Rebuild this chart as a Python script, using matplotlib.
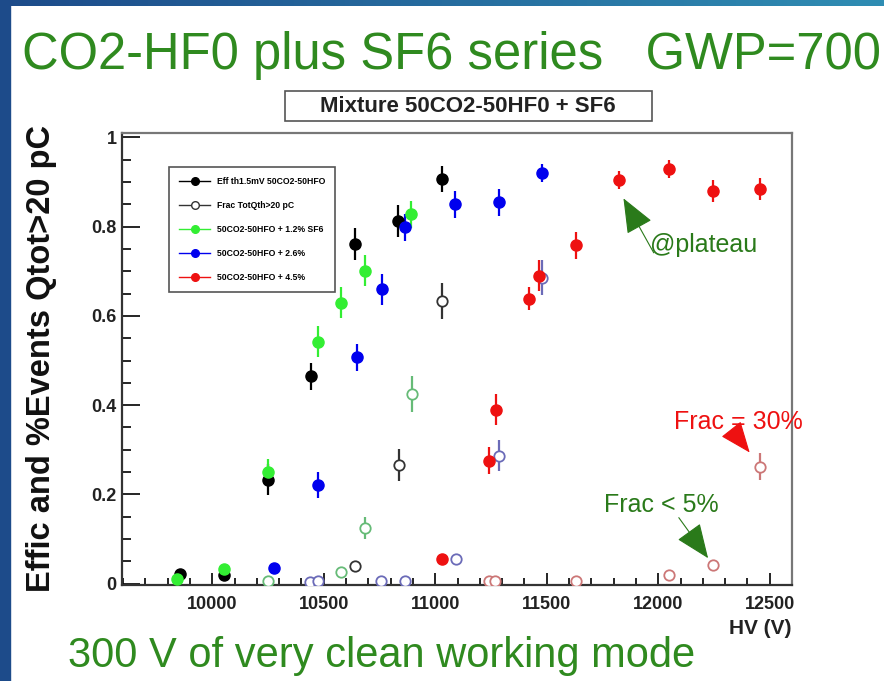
import matplotlib
matplotlib.use('Agg')
import numpy as np
from matplotlib import pyplot as plt
from matplotlib.colors import LinearSegmentedColormap
from matplotlib.lines import Line2D
from matplotlib.patches import Rectangle

W, H = 884, 681
SANS = ['Liberation Sans', 'DejaVu Sans']
TXT_GREEN = '#2f8a1f'

# Eff th1.5mV 50CO2-50HFO (filled black) and Frac TotQth>20 pC (open black)
hv_black = [9855, 10052, 10250, 10442, 10639, 10833, 11030]
eff_black = [0.021, 0.020, 0.233, 0.465, 0.761, 0.813, 0.907]
err_black = [0.010, 0.010, 0.035, 0.030, 0.035, 0.035, 0.030]
hv_black_frac = [10639, 10838, 11032]
frac_black = [0.040, 0.266, 0.634]
err_black_frac = [0.010, 0.035, 0.040]

# 50CO2-50HFO + 1.2% SF6
hv_green = [9840, 10052, 10250, 10474, 10579, 10684, 10893]
eff_green = [0.011, 0.032, 0.250, 0.542, 0.630, 0.701, 0.828]
err_green = [0.010, 0.010, 0.030, 0.035, 0.035, 0.035, 0.030]
hv_green_frac = [10250, 10579, 10684, 10896]
frac_green = [0.007, 0.026, 0.125, 0.425]
err_green_frac = [0.008, 0.010, 0.025, 0.040]

# 50CO2-50HFO + 2.6%
hv_blue = [10277, 10474, 10651, 10762, 10863, 11087, 11285, 11478]
eff_blue = [0.036, 0.221, 0.507, 0.660, 0.799, 0.850, 0.855, 0.921]
err_blue = [0.010, 0.030, 0.030, 0.035, 0.030, 0.030, 0.030, 0.020]
hv_blue_frac = [10440, 10475, 10756, 10863, 11092, 11284, 11480]
frac_blue = [0.004, 0.005, 0.006, 0.006, 0.056, 0.287, 0.686]
err_blue_frac = [0.005, 0.005, 0.005, 0.005, 0.010, 0.035, 0.040]

# 50CO2-50HFO + 4.5%
hv_red = [11028, 11240, 11271, 11419, 11465, 11630, 11824, 12048, 12245, 12456]
eff_red = [0.056, 0.276, 0.390, 0.639, 0.690, 0.758, 0.905, 0.930, 0.880, 0.884]
err_red = [0.010, 0.030, 0.035, 0.025, 0.035, 0.030, 0.020, 0.020, 0.025, 0.025]
hv_red_frac = [11240, 11270, 11630, 12048, 12245, 12456]
frac_red = [0.005, 0.005, 0.006, 0.020, 0.041, 0.262]
err_red_frac = [0.005, 0.005, 0.005, 0.008, 0.010, 0.030]

legend_labels = ['Eff th1.5mV 50CO2-50HFO', 'Frac TotQth>20 pC',
                 '50CO2-50HFO + 1.2% SF6', '50CO2-50HFO + 2.6%',
                 '50CO2-50HFO + 4.5%']

fig = plt.figure(figsize=(W / 100, H / 100), dpi=100)
fig.patch.set_facecolor('white')

# slide decoration: dark blue strip on the left, gradient band on top
fig.add_artist(Rectangle((0, 0), 10 / W, 1, transform=fig.transFigure,
                         color='#1d4b8a', zorder=0))
band = fig.add_axes([0, 1 - 6 / H, 1, 6 / H])
band.imshow(np.linspace(0, 1, 256)[None, :], aspect='auto',
            cmap=LinearSegmentedColormap.from_list('band', ['#1d4b8a', '#2f8db3']))
band.axis('off')

fig.text(22 / W, 1 - 55 / H, 'CO2-HF0 plus SF6 series   GWP=700',
         color=TXT_GREEN, fontsize=36.5, family=SANS, va='center', ha='left')
fig.text(68 / W, 1 - 656 / H, '300 V of very clean working mode',
         color=TXT_GREEN, fontsize=30, family=SANS, va='center', ha='left')

# histogram title box
fig.add_artist(Rectangle((285 / W, 1 - 121 / H), 367 / W, 30 / H,
                         transform=fig.transFigure, facecolor='white',
                         edgecolor='#555555', lw=1.2))
fig.text(468 / W, 1 - 106 / H, 'Mixture 50CO2-50HF0 + SF6', fontsize=16,
         fontweight='bold', family=SANS, ha='center', va='center', color='#222222')

ax = fig.add_axes([122 / W, 1 - 585 / H, 670 / W, 452 / H])


def draw(x, y, e, color, open_marker=False):
    if open_marker:
        ax.errorbar(x, y, yerr=e, fmt='o', ms=7.5, mfc='white', mec=color,
                    mew=1.3, ecolor=color, elinewidth=1.6, capsize=0, zorder=3)
    else:
        ax.errorbar(x, y, yerr=e, fmt='o', ms=8, color=color,
                    ecolor=color, elinewidth=1.6, capsize=0, zorder=4)


draw(hv_black_frac, frac_black, err_black_frac, '#333333', True)
draw(hv_green_frac, frac_green, err_green_frac, '#66bb77', True)
draw(hv_blue_frac, frac_blue, err_blue_frac, '#6b6bb8', True)
draw(hv_red_frac, frac_red, err_red_frac, '#cc7777', True)
draw(hv_black, eff_black, err_black, '#000000')
draw(hv_green, eff_green, err_green, '#33ee33')
draw(hv_blue, eff_blue, err_blue, '#0000ee')
draw(hv_red, eff_red, err_red, '#ee1111')

ax.set_xlim(9595, 12600)
ax.set_ylim(-0.003, 1.01)
ax.set_xticks(np.arange(10000, 12501, 500))
ax.set_xticks(np.arange(9600, 12601, 100), minor=True)
ax.set_yticks([0, 0.2, 0.4, 0.6, 0.8, 1])
ax.set_yticklabels(['0', '0.2', '0.4', '0.6', '0.8', '1'])
ax.set_yticks(np.arange(0, 1.001, 0.05), minor=True)
ax.tick_params(axis='y', which='major', direction='in', length=13, width=1.2, pad=4)
ax.tick_params(axis='y', which='minor', direction='in', length=6.5, width=1.2)
ax.tick_params(axis='x', which='major', direction='in', length=9, width=1.2, pad=8)
ax.tick_params(axis='x', which='minor', direction='in', length=5, width=1.2)
for lab in ax.get_xticklabels() + ax.get_yticklabels():
    lab.set_fontsize(13)
    lab.set_fontweight('bold')
    lab.set_family(SANS)
    lab.set_color('#222222')
for side in ['left', 'bottom']:
    ax.spines[side].set_color('#333333')
    ax.spines[side].set_linewidth(1.6)
for side in ['top', 'right']:
    ax.spines[side].set_color('#777777')
    ax.spines[side].set_linewidth(1.6)

ax.set_xlabel('HV (V)', loc='right', fontsize=15, fontweight='bold',
              family=SANS, labelpad=4, color='#222222')
ax.set_ylabel('Effic and %Events Qtot>20 pC', fontsize=23.5, fontweight='bold',
              family=SANS, color='#111111')
ax.yaxis.set_label_coords(-0.097, 0.5)

handles = [
    Line2D([], [], color='#000000', marker='o', ms=5.5, lw=1),
    Line2D([], [], color='#333333', marker='o', ms=5.5, mfc='white', lw=1),
    Line2D([], [], color='#33ee33', marker='o', ms=5.5, lw=1),
    Line2D([], [], color='#0000ee', marker='o', ms=5.5, lw=1),
    Line2D([], [], color='#ee1111', marker='o', ms=5.5, lw=1),
]
leg = ax.legend(handles, legend_labels, loc='upper left', bbox_to_anchor=(0.064, 0.934),
                prop={'family': SANS, 'size': 6.2, 'weight': 'bold'},
                labelspacing=1.75, handlelength=3.6, borderpad=1.15,
                fancybox=False, edgecolor='#555555', framealpha=1)
leg.get_frame().set_linewidth(1.2)

# annotations
ax.annotate('', xy=(11838, 0.869), xytext=(11986, 0.736),
            arrowprops={'arrowstyle': '-|>,head_length=1.1,head_width=0.45',
                        'mutation_scale': 20, 'lw': 0.8, 'color': '#2a7a1a'})
ax.text(12205, 0.760, '@plateau', color='#2a7a1a', fontsize=18, family=SANS,
        ha='center', va='center')
ax.annotate('', xy=(12418, 0.289), xytext=(12350, 0.332),
            arrowprops={'arrowstyle': '-|>,head_length=1.0,head_width=0.4',
                        'mutation_scale': 20, 'lw': 0.8, 'color': '#ee1111'})
ax.text(12358, 0.363, 'Frac = 30%', color='#ee1111', fontsize=18, family=SANS,
        ha='center', va='center')
ax.annotate('', xy=(12231, 0.052), xytext=(12085, 0.153),
            arrowprops={'arrowstyle': '-|>,head_length=1.1,head_width=0.45',
                        'mutation_scale': 20, 'lw': 0.8, 'color': '#2a7a1a'})
ax.text(12014, 0.177, 'Frac < 5%', color='#2a7a1a', fontsize=18, family=SANS,
        ha='center', va='center')

fig.savefig('out.png', dpi=100)
